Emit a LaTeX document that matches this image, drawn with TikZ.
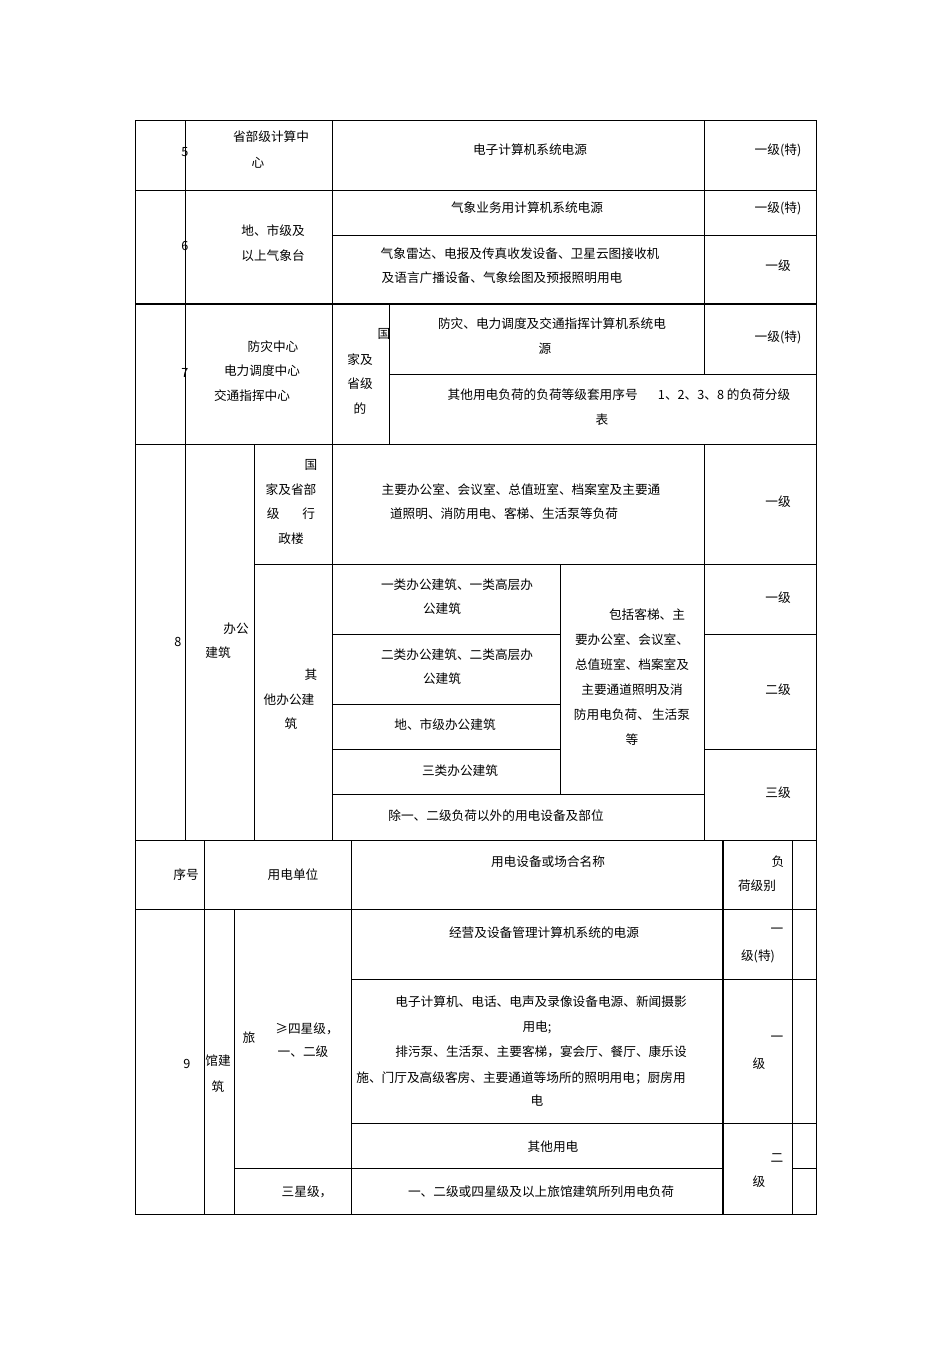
\documentclass[tikz,border=0pt]{standalone}
\usepackage{fontspec}
\setmainfont{Noto Sans CJK SC}
\begin{document}
\begin{tikzpicture}[x=0.75pt,y=-0.75pt,
  t/.style={inner sep=0pt,font=\fontsize{9.5}{11}\selectfont},
  g/.style={line width=0.7pt},
  bg/.style={line width=1.4pt}]
\useasboundingbox (0,0) rectangle (950,1345);
% outer
\draw[g] (135,120) rectangle (816,1214);
% horizontals
\draw[g] (135,190) -- (816,190);
\draw[g] (332,235) -- (816,235);
\draw[bg] (135,304) -- (816,304);
\draw[g] (389,374) -- (816,374);
\draw[g] (135,444) -- (816,444);
\draw[g] (254,564) -- (816,564);
\draw[g] (332,634) -- (560,634);
\draw[g] (704,634) -- (816,634);
\draw[g] (332,704) -- (560,704);
\draw[g] (332,749) -- (560,749);
\draw[g] (704,749) -- (816,749);
\draw[g] (332,794) -- (704,794);
\draw[g] (135,840) -- (816,840);
\draw[g] (135,909) -- (816,909);
\draw[g] (351,979) -- (816,979);
\draw[g] (351,1123) -- (816,1123);
\draw[g] (234,1168) -- (723,1168);
\draw[g] (792,1168) -- (816,1168);
% verticals
\draw[g] (185,120) -- (185,840);
\draw[g] (332,120) -- (332,840);
\draw[g] (704,120) -- (704,374);
\draw[g] (389,304) -- (389,444);
\draw[g] (704,444) -- (704,840);
\draw[g] (254,444) -- (254,840);
\draw[g] (560,564) -- (560,794);
\draw[g] (204,840) -- (204,1214);
\draw[g] (234,909) -- (234,1214);
\draw[g] (351,840) -- (351,1214);
\draw[bg] (723,840) -- (723,1214);
\draw[g] (792,840) -- (792,1214);
% row 5
\node[t] (n5) at (185,152) {5};
\node[t] (a5) at (271,137) {省部级计算中};
\node[t] (b5) at (258,163) {心};
\node[t] (c5) at (530,150) {电子计算机系统电源};
\node[t] (d5) at (778,150) {一级(特)};
% row 6
\node[t] (n6) at (185,246) {6};
\node[t] (a6) at (273,231) {地、市级及};
\node[t] (b6) at (273,256) {以上气象台};
\node[t] (c6) at (527,208) {气象业务用计算机系统电源};
\node[t] (d6) at (778,208) {一级(特)};
\node[t] (e6) at (520,254) {气象雷达、电报及传真收发设备、卫星云图接收机};
\node[t] (f6) at (502,278) {及语言广播设备、气象绘图及预报照明用电};
\node[t] (g6) at (778,266) {一级};
% row 7
\node[t] (n7) at (185,373) {7};
\node[t] (a7) at (273,347) {防灾中心};
\node[t] (b7) at (262,371) {电力调度中心};
\node[t] (c7) at (252,396) {交通指挥中心};
\node[t] (d7) at (384,334) {国};
\node[t] (e7) at (360,360) {家及};
\node[t] (f7) at (360,384) {省级};
\node[t] (g7) at (360,409) {的};
\node[t] (h7) at (552,324) {防灾、电力调度及交通指挥计算机系统电};
\node[t] (i7) at (545,349) {源};
\node[t] (j7) at (778,337) {一级(特)};
\node[t] (k7) at (619,395) {其他用电负荷的负荷等级套用序号\hspace{1.6em}1、2、3、8 的负荷分级};
\node[t] (l7) at (602,420) {表};
% row 8
\node[t] (n8) at (178,642) {8};
\node[t] (a8) at (236,629) {办公};
\node[t] (b8) at (218,653) {建筑};
\node[t] (c8) at (311,465) {国};
\node[t] (d8) at (291,490) {家及省部};
\node[t] (e8) at (291,514) {级\hspace{1.8em}行};
\node[t] (f8) at (291,539) {政楼};
\node[t] (g8) at (521,490) {主要办公室、会议室、总值班室、档案室及主要通};
\node[t] (h8) at (504,514) {道照明、消防用电、客梯、生活泵等负荷};
\node[t] (i8) at (778,502) {一级};
\node[t] (j8) at (311,675) {其};
\node[t] (k8) at (289,700) {他办公建};
\node[t] (l8) at (291,724) {筑};
\node[t] (m8) at (457,585) {一类办公建筑、一类高层办};
\node[t] (o8) at (442,609) {公建筑};
\node[t] (p8) at (457,655) {二类办公建筑、二类高层办};
\node[t] (q8) at (442,679) {公建筑};
\node[t] (r8) at (445,725) {地、市级办公建筑};
\node[t] (s8) at (460,771) {三类办公建筑};
\node[t] (u8) at (496,816) {除一、二级负荷以外的用电设备及部位};
\node[t] (v8) at (647,615) {包括客梯、主};
\node[t] (w8) at (632,640) {要办公室、会议室、};
\node[t] (x8) at (632,665) {总值班室、档案室及};
\node[t] (y8) at (632,690) {主要通道照明及消};
\node[t] (z8) at (632,715) {防用电负荷、\,生活泵};
\node[t] (zz8) at (632,740) {等};
\node[t] (h18) at (778,598) {一级};
\node[t] (h28) at (778,690) {二级};
\node[t] (h38) at (778,793) {三级};
% header
\node[t] (h1) at (186,875) {序号};
\node[t] (h2) at (293,875) {用电单位};
\node[t] (h3) at (548,862) {用电设备或场合名称};
\node[t] (h4) at (778,862) {负};
\node[t] (h5) at (757,886) {荷级别};
% row 9
\node[t] (n9) at (187,1064) {9};
\node[t] (a9) at (218,1061) {馆建};
\node[t] (b9) at (218,1087) {筑};
\node[t] (c9) at (249,1038) {旅};
\node[t] (d9) at (307,1029) {≥四星级，};
\node[t] (e9) at (303,1052) {一、二级};
\node[t] (f9) at (307,1192) {三星级，};
\node[t] (g9) at (544,933) {经营及设备管理计算机系统的电源};
\node[t] (i9) at (541,1002) {电子计算机、电话、电声及录像设备电源、新闻摄影};
\node[t] (j9) at (537,1027) {用电;};
\node[t] (k9) at (541,1052) {排污泵、生活泵、主要客梯，宴会厅、餐厅、康乐设};
\node[t] (l9) at (521,1078) {施、门厅及高级客房、主要通道等场所的照明用电；厨房用};
\node[t] (m9) at (537,1101) {电};
\node[t] (o9) at (553,1147) {其他用电};
\node[t] (p9) at (541,1192) {一、二级或四星级及以上旅馆建筑所列用电负荷};
\node[t] (q9) at (777,931) {一};
\node[t] (r9) at (758,956) {级(特)};
\node[t] (s9) at (777,1039) {一};
\node[t] (u9) at (759,1064) {级};
\node[t] (v9) at (777,1158) {二};
\node[t] (w9) at (759,1182) {级};
\end{tikzpicture}
\end{document}
